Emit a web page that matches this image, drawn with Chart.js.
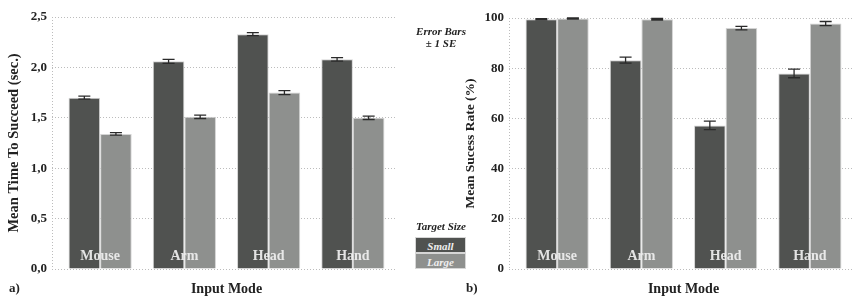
<!DOCTYPE html>
<html>
<head>
<meta charset="utf-8">
<script src="https://cdn.jsdelivr.net/npm/chart.js@4.4.0/dist/chart.umd.min.js"></script>
<style>
  body { margin: 0; background: #fff; width: 858px; height: 298px; position: relative; overflow: hidden; }
  canvas { position: absolute; top: 0; }
  .txt { position: absolute; font-family: "Liberation Serif", serif; font-weight: bold; color: #222; white-space: nowrap; }
  .it { font-style: italic; font-size: 11px; text-align: center; }
  .box { position: absolute; left: 415px; width: 51px; height: 16px; color: #eee; font: italic bold 11px "Liberation Serif", serif; text-align: center; line-height: 16px; border: 1px solid #d6d6d6; box-sizing: border-box; }
</style>
</head>
<body>
<canvas id="timeChart" width="405" height="298" style="left:0px"></canvas>
<canvas id="rateChart" width="403" height="298" style="left:455px"></canvas>

<div class="txt it" style="left:405px;width:72px;top:25px;">Error Bars</div>
<div class="txt it" style="left:405px;width:72px;top:37px;">± 1 SE</div>
<div class="txt it" style="left:405px;width:72px;top:220px;">Target Size</div>
<div class="box" style="top:237px;background:#505250;">Small</div>
<div class="box" style="top:253px;background:#8e908e;">Large</div>
<div class="txt" style="left:9px;top:280px;font-size:13px;">a)</div>
<div class="txt" style="left:466px;top:280px;font-size:13px;">b)</div>

<script>
const modes = ['Mouse', 'Arm', 'Head', 'Hand'];
const sizes = ['Small', 'Large'];

// mean time to succeed (sec.)
const timeSmall = [1.70, 2.06, 2.33, 2.08];
const timeLarge = [1.34, 1.51, 1.75, 1.50];
const timeSmallSE = [0.015, 0.02, 0.015, 0.017];
const timeLargeSE = [0.012, 0.017, 0.02, 0.017];
const timeTicks = ['0,0', '0,5', '1,0', '1,5', '2,0', '2,5'];

// mean success rate (%)
const rateSmall = [99.5, 83.2, 57.2, 77.9];
const rateLarge = [99.8, 99.5, 96.0, 97.8];
const rateSmallSE = [0.2, 1.2, 1.7, 1.7];
const rateLargeSE = [0.2, 0.3, 0.7, 0.8];
const rateTicks = ['0', '20', '40', '60', '80', '100'];

const darkGray = '#505250';
const lightGray = '#8e908e';
const gridGray = '#bcbcbc';
const serif = '"Liberation Serif", "Times New Roman", serif';

const barOverlay = {
  id: 'barOverlay',
  beforeDatasetsDraw(chart) {
    // dotted axis line at the left end of the grid lines
    const ctx = chart.ctx;
    const y = chart.scales.y;
    const x = chart.chartArea.left - y.options.grid.tickLength;
    ctx.save();
    ctx.strokeStyle = gridGray;
    ctx.lineWidth = 1;
    ctx.setLineDash([1, 2]);
    ctx.beginPath();
    ctx.moveTo(x + 0.5, y.top);
    ctx.lineTo(x + 0.5, y.bottom);
    ctx.stroke();
    ctx.restore();
  },
  afterDatasetsDraw(chart, args, opts) {
    const ctx = chart.ctx;
    // error bars
    ctx.save();
    ctx.strokeStyle = '#2a2a2a';
    ctx.lineWidth = 1.3;
    chart.data.datasets.forEach((ds, di) => {
      const meta = chart.getDatasetMeta(di);
      const yScale = chart.scales.y;
      meta.data.forEach((bar, i) => {
        const v = ds.data[i];
        const se = opts.errors[di][i];
        const yTop = yScale.getPixelForValue(v + se);
        const yBot = yScale.getPixelForValue(v - se);
        const x = bar.x;
        ctx.beginPath();
        ctx.moveTo(x, yTop); ctx.lineTo(x, yBot);
        ctx.moveTo(x - 6, yTop); ctx.lineTo(x + 6, yTop);
        ctx.moveTo(x - 6, yBot); ctx.lineTo(x + 6, yBot);
        ctx.stroke();
      });
    });
    // category names inside bars
    const xScale = chart.scales.x;
    ctx.fillStyle = 'rgba(240,240,240,0.92)';
    ctx.font = 'bold 14px ' + serif;
    ctx.textAlign = 'center';
    ctx.textBaseline = 'middle';
    chart.data.labels.forEach((lab, i) => {
      ctx.fillText(lab, xScale.getPixelForValue(i), chart.chartArea.bottom - 13);
    });
    ctx.restore();
  }
};

function makeChart(id, small, large, smallSE, largeSE, ticks, max, step, yTitle, titleSize, titlePad, axisW, rightPad, topPad) {
  return new Chart(document.getElementById(id), {
    type: 'bar',
    data: {
      labels: modes,
      datasets: [
        { label: sizes[0], data: small, backgroundColor: darkGray, borderColor: '#d4d4d4', borderWidth: 1 },
        { label: sizes[1], data: large, backgroundColor: lightGray, borderColor: '#d4d4d4', borderWidth: 1 }
      ]
    },
    options: {
      responsive: false,
      animation: false,
      categoryPercentage: 0.75,
      barPercentage: 1.0,
      layout: { padding: { top: topPad, right: rightPad, left: 0, bottom: 0 } },
      plugins: {
        legend: { display: false },
        tooltip: { enabled: false },
        barOverlay: { errors: [smallSE, largeSE] }
      },
      scales: {
        x: {
          grid: { display: false },
          border: { display: false },
          ticks: { display: false },
          title: {
            display: true, text: 'Input Mode', color: '#222',
            font: { family: serif, weight: 'bold', size: 14 },
            padding: { top: 0, bottom: 0 }
          },
          afterFit(scale) { scale.height = 29; }
        },
        y: {
          min: 0, max: max,
          border: { display: false, dash: [1, 2] },
          grid: { color: gridGray, tickLength: 6, lineWidth: 1, tickBorderDash: [1, 2] },
          ticks: {
            stepSize: step, padding: 5, color: '#222',
            font: { family: serif, weight: 'bold', size: 13 },
            callback: (v, i) => ticks[i]
          },
          title: {
            display: true, text: yTitle, color: '#222',
            font: { family: serif, weight: 'bold', size: titleSize },
            padding: { top: titlePad, bottom: 0 }
          },
          afterFit(scale) { scale.width = axisW; }
        }
      }
    },
    plugins: [barOverlay]
  });
}

makeChart('timeChart', timeSmall, timeLarge, timeSmallSE, timeLargeSE, timeTicks, 2.5, 0.5,
  'Mean Time To Succeed (sec.)', 14.5, 6, 58, 10, 17);
makeChart('rateChart', rateSmall, rateLarge, rateSmallSE, rateLargeSE, rateTicks, 100, 20,
  'Mean Sucess Rate (%)', 13.5, 7, 60, 6, 18);
</script>
</body>
</html>
